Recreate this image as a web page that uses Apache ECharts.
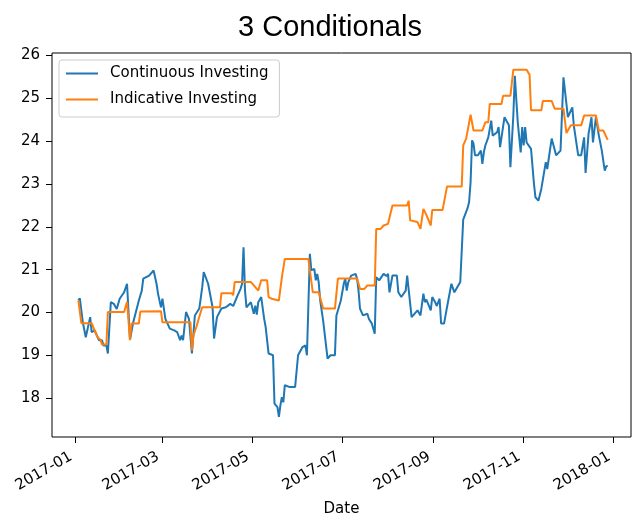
<!DOCTYPE html>
<html>
<head>
<meta charset="utf-8">
<title>3 Conditionals</title>
<script src="https://cdn.jsdelivr.net/npm/echarts@6/dist/echarts.min.js"></script>
<style>
  html, body { margin: 0; padding: 0; background: #fff; }
  #chart { width: 633px; height: 516px; }
</style>
</head>
<body>
<div id="chart"></div>
<script>
// Continuous Investing: daily value through 2017
const continuousDates = [
  '2017-01-03','2017-01-04','2017-01-06','2017-01-08','2017-01-11','2017-01-12','2017-01-14','2017-01-17',
  '2017-01-19','2017-01-20','2017-01-22','2017-01-23','2017-01-25','2017-01-27','2017-01-29','2017-01-31',
  '2017-02-03','2017-02-05','2017-02-07','2017-02-09','2017-02-13','2017-02-15','2017-02-16','2017-02-20',
  '2017-02-23','2017-02-25','2017-02-26','2017-02-28','2017-03-01','2017-03-03','2017-03-06','2017-03-09',
  '2017-03-11','2017-03-13','2017-03-14','2017-03-15','2017-03-17','2017-03-19','2017-03-21','2017-03-23',
  '2017-03-26','2017-03-28','2017-03-29','2017-04-01','2017-04-04','2017-04-05','2017-04-07','2017-04-10',
  '2017-04-13','2017-04-16','2017-04-18','2017-04-21','2017-04-23','2017-04-24','2017-04-25','2017-04-26',
  '2017-04-27','2017-04-30','2017-05-01','2017-05-02','2017-05-03','2017-05-04','2017-05-05','2017-05-07',
  '2017-05-09','2017-05-10','2017-05-12','2017-05-15','2017-05-16','2017-05-18','2017-05-19','2017-05-20',
  '2017-05-21','2017-05-22','2017-05-23','2017-05-24','2017-05-26','2017-05-30','2017-06-01','2017-06-04',
  '2017-06-06','2017-06-07','2017-06-09','2017-06-10','2017-06-12','2017-06-13','2017-06-14','2017-06-15',
  '2017-06-16','2017-06-18','2017-06-21','2017-06-23','2017-06-26','2017-06-27','2017-06-30','2017-07-02',
  '2017-07-03','2017-07-04','2017-07-05','2017-07-07','2017-07-10','2017-07-11','2017-07-12','2017-07-13',
  '2017-07-15','2017-07-18','2017-07-19','2017-07-21','2017-07-23','2017-07-24','2017-07-26','2017-07-29',
  '2017-07-31','2017-08-01','2017-08-02','2017-08-04','2017-08-07','2017-08-08','2017-08-10','2017-08-13',
  '2017-08-14','2017-08-17','2017-08-21','2017-08-23','2017-08-25','2017-08-26','2017-08-27','2017-08-30',
  '2017-08-31','2017-09-02','2017-09-03','2017-09-05','2017-09-06','2017-09-08','2017-09-10','2017-09-13',
  '2017-09-15','2017-09-19','2017-09-20','2017-09-21','2017-09-24','2017-09-25','2017-09-26','2017-09-27',
  '2017-09-28','2017-09-29','2017-10-01','2017-10-03','2017-10-04','2017-10-05','2017-10-06','2017-10-08',
  '2017-10-10','2017-10-11','2017-10-14','2017-10-15','2017-10-16','2017-10-18','2017-10-19','2017-10-22',
  '2017-10-23','2017-10-25','2017-10-26','2017-10-28','2017-10-30','2017-10-31','2017-11-01','2017-11-02',
  '2017-11-03','2017-11-06','2017-11-08','2017-11-09','2017-11-11','2017-11-13','2017-11-16','2017-11-17',
  '2017-11-18','2017-11-20','2017-11-23','2017-11-26','2017-11-28','2017-12-01','2017-12-04','2017-12-05',
  '2017-12-08','2017-12-10','2017-12-12','2017-12-13','2017-12-15','2017-12-17','2017-12-18','2017-12-20',
  '2017-12-22','2017-12-24','2017-12-26','2017-12-27','2017-12-28'
];
const continuousValues = [
  20.28,20.33,19.77,19.42,19.89,19.54,19.58,19.35,
  19.35,19.23,19.23,19.04,20.24,20.20,20.08,20.32,
  20.47,20.67,19.36,19.74,20.28,20.51,20.79,20.86,
  20.98,20.67,20.44,20.12,20.32,19.85,19.62,19.58,
  19.54,19.35,19.46,19.35,20.01,19.85,19.04,19.93,
  20.09,20.59,20.94,20.67,20.12,19.39,19.89,20.09,
  20.12,20.20,20.15,20.40,20.55,20.67,21.52,20.51,
  20.12,20.24,20.28,19.97,20.16,19.95,20.24,20.36,
  19.85,19.66,19.04,19.00,17.87,17.79,17.56,17.83,
  18.02,17.90,18.30,18.34,18.26,18.26,19.00,19.19,
  19.23,19.00,21.37,20.98,21.02,20.75,20.90,20.70,
  20.28,19.81,18.92,19.00,19.00,19.93,20.28,20.67,
  20.79,20.51,20.70,20.86,20.90,20.79,20.51,20.09,
  19.93,19.97,19.85,19.74,19.50,20.82,20.75,20.90,
  20.85,20.90,20.47,20.86,20.86,20.47,20.36,20.51,
  20.86,19.89,20.05,19.93,20.44,20.24,20.30,20.05,
  20.36,20.24,20.15,20.32,19.74,19.74,20.12,20.67,
  20.47,20.71,20.71,22.17,22.44,22.58,23.04,24.02,
  23.94,23.67,23.67,23.78,23.47,23.74,23.90,24.09,
  24.48,24.13,24.21,24.33,23.86,24.33,24.56,24.37,
  23.39,24.60,25.53,24.44,23.74,24.33,23.90,24.33,
  23.97,23.82,23.00,22.69,22.61,22.89,23.51,23.35,
  23.59,24.06,23.67,23.78,25.49,24.56,24.79,24.37,
  23.67,23.67,24.09,23.26,24.17,24.56,23.97,24.56,
  24.13,23.78,23.31,23.41,23.43
];

// Indicative Investing: value at each change point
const indicativeDates = [
  '2017-01-03','2017-01-04','2017-01-05','2017-01-12','2017-01-13','2017-01-16','2017-01-18','2017-01-19',
  '2017-01-22','2017-01-23','2017-02-03','2017-02-05','2017-02-06','2017-02-07','2017-02-08','2017-02-13',
  '2017-02-14','2017-02-28','2017-03-01','2017-03-20','2017-03-21','2017-03-22','2017-03-24','2017-03-26',
  '2017-03-28','2017-04-09','2017-04-10','2017-04-17','2017-04-18','2017-04-19','2017-04-30','2017-05-02',
  '2017-05-05','2017-05-07','2017-05-11','2017-05-12','2017-05-14','2017-05-19','2017-05-20','2017-05-21',
  '2017-05-23','2017-06-08','2017-06-09','2017-06-11','2017-06-15','2017-06-18','2017-06-26','2017-06-28',
  '2017-07-11','2017-07-13','2017-07-16','2017-07-18','2017-07-23','2017-07-24','2017-07-27','2017-07-29',
  '2017-08-01','2017-08-04','2017-08-14','2017-08-15','2017-08-16','2017-08-21','2017-08-23','2017-08-25',
  '2017-08-27','2017-08-30','2017-08-31','2017-09-07','2017-09-10','2017-09-20','2017-09-21','2017-09-23',
  '2017-09-26','2017-09-27','2017-09-28','2017-10-04','2017-10-06','2017-10-08','2017-10-09','2017-10-17',
  '2017-10-18','2017-10-23','2017-10-25','2017-11-03','2017-11-05','2017-11-06','2017-11-13','2017-11-14',
  '2017-11-20','2017-11-22','2017-11-28','2017-11-30','2017-12-03','2017-12-10','2017-12-12','2017-12-20',
  '2017-12-22','2017-12-25','2017-12-28'
];
const indicativeValues = [
  20.28,20.30,19.75,19.75,19.66,19.42,19.36,19.25,
  19.25,20.01,20.01,20.25,20.25,19.35,19.74,19.74,
  20.02,20.03,19.77,19.77,19.11,19.46,19.66,19.90,
  20.12,20.12,20.45,20.45,20.40,20.71,20.71,20.63,
  20.51,20.75,20.75,20.36,20.32,20.28,20.28,20.82,
  21.25,21.25,20.98,20.47,20.47,20.09,20.09,20.79,
  20.79,20.55,20.55,20.63,20.63,21.95,21.95,22.03,
  22.07,22.50,22.50,22.61,22.15,22.11,21.95,22.42,
  22.28,22.03,22.39,22.39,22.94,22.94,23.90,24.06,
  24.62,24.62,24.25,24.25,24.44,24.44,24.87,24.87,
  25.06,25.06,25.67,25.67,25.55,24.72,24.72,24.94,
  24.94,24.76,24.76,24.19,24.37,24.37,24.60,24.60,
  24.25,24.25,24.03
];

const seriesNames = ['Continuous Investing', 'Indicative Investing'];
const yTickValues = [18, 19, 20, 21, 22, 23, 24, 25, 26];
const xTickLabels = ['2017-01', '2017-03', '2017-05', '2017-07', '2017-09', '2017-11', '2018-01'];

const DAY = 86400000;
const toTime = s => Date.parse(s.length === 7 ? s + '-01' : s);
const pairs = (dates, values) => dates.map((d, i) => [toTime(d), values[i]]);
const xTickValues = xTickLabels.map(toTime);
const yearStart = toTime('2017-01-01');

const pad2 = n => (n < 10 ? '0' : '') + n;
const monthLabel = v => {
  const d = new Date(v);
  return d.getUTCFullYear() + '-' + pad2(d.getUTCMonth() + 1);
};

const tickFont = { fontFamily: 'DejaVu Sans', fontSize: 15, color: '#000' };

const chart = echarts.init(document.getElementById('chart'), null, { renderer: 'canvas' });
chart.setOption({
  animation: false,
  backgroundColor: '#ffffff',
  title: {
    text: '3 Conditionals',
    left: 325,
    top: 8,
    textAlign: 'center',
    textStyle: { fontFamily: 'Liberation Sans', fontSize: 29, fontWeight: 'normal', color: '#000' }
  },
  legend: {
    data: seriesNames,
    orient: 'vertical',
    left: 59,
    top: 60,
    icon: 'rect',
    itemWidth: 32,
    itemHeight: 2,
    itemGap: 9,
    padding: [5, 11, 9, 7],
    borderColor: '#cccccc',
    borderWidth: 1,
    borderRadius: 3,
    backgroundColor: 'rgba(255,255,255,0.8)',
    textStyle: { fontFamily: 'DejaVu Sans', fontSize: 15, color: '#000', lineHeight: 17, padding: [0, 0, 0, 7] }
  },
  grid: {
    left: 52,
    right: 2,
    top: 53,
    bottom: 79,
    outerBoundsMode: 'none',
    containLabel: false,
    show: true,
    borderColor: '#000',
    borderWidth: 1,
    backgroundColor: 'transparent'
  },
  xAxis: {
    type: 'value',
    min: yearStart - 15.9 * DAY,
    max: yearStart + 376.8 * DAY,
    name: 'Date',
    nameLocation: 'middle',
    nameGap: 65,
    nameMoveOverlap: false,
    nameTextStyle: tickFont,
    axisLine: { show: false },
    axisTick: { show: true, customValues: xTickValues, length: 6, lineStyle: { color: '#000', width: 1 } },
    axisLabel: Object.assign({
      customValues: xTickValues,
      formatter: monthLabel,
      rotate: 30,
      margin: 16,
      padding: [0, 5, 0, 0]
    }, tickFont),
    splitLine: { show: false }
  },
  yAxis: {
    type: 'value',
    min: 17.09,
    max: 26.06,
    axisLine: { show: false },
    axisTick: { show: true, customValues: yTickValues, length: 6, lineStyle: { color: '#000', width: 1 } },
    axisLabel: Object.assign({ customValues: yTickValues, margin: 12 }, tickFont),
    splitLine: { show: false }
  },
  series: [
    {
      name: seriesNames[0],
      type: 'line',
      data: pairs(continuousDates, continuousValues),
      showSymbol: false,
      color: '#1f77b4',
      lineStyle: { width: 2, color: '#1f77b4' }
    },
    {
      name: seriesNames[1],
      type: 'line',
      data: pairs(indicativeDates, indicativeValues),
      showSymbol: false,
      color: '#ff7f0e',
      lineStyle: { width: 2, color: '#ff7f0e' }
    }
  ]
});
</script>
</body>
</html>
